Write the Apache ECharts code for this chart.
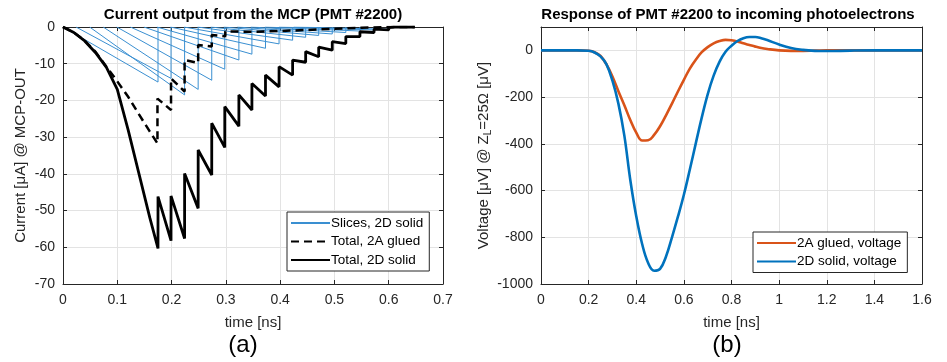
<!DOCTYPE html>
<html>
<head>
<meta charset="utf-8">
<script src="https://cdn.jsdelivr.net/npm/echarts@6/dist/echarts.min.js"></script>
<style>
html,body{margin:0;padding:0;background:#fff;}
#chart{width:947px;height:362px;}
</style>
</head>
<body>
<div id="chart"></div>
<script>
// ---------- Panel (a): current output from the MCP ----------
const sliceStart = [0, 0.024, 0.049, 0.074, 0.099, 0.124, 0.149, 0.173, 0.198, 0.223, 0.248, 0.272, 0.296, 0.321, 0.346, 0.372, 0.398, 0.425];
const sliceEnd   = [0.175, 0.199, 0.224, 0.249, 0.274, 0.298, 0.324, 0.348, 0.373, 0.398, 0.423, 0.447, 0.471, 0.496, 0.521, 0.547, 0.573, 0.6];
const sliceMin   = [-15, -14, -18.5, -17, -14.5, -11.5, -9, -7.4, -5.8, -4.6, -3.6, -2.8, -2.3, -1.9, -1.5, -1.1, -0.8, -0.6];

const solidTime = [0,0.02,0.04,0.06,0.08,0.1,0.12,0.14,0.16,0.175,0.175,0.199,0.199,0.224,0.224,0.249,0.249,0.274,0.274,0.298,0.298,0.324,0.324,0.348,0.348,0.373,0.373,0.398,0.398,0.423,0.423,0.447,0.447,0.471,0.471,0.496,0.496,0.521,0.521,0.547,0.547,0.573,0.573,0.6,0.6,0.61,0.648];
const solidVal  = [0,-1.5,-3.8,-7,-11,-17,-28,-40,-52,-60.3,-46.2,-58.2,-46,-57.6,-39.9,-49.4,-33.5,-40.3,-26.2,-32.8,-21.7,-27,-18.5,-22.6,-15.4,-18.8,-13.1,-16.3,-10.8,-13.1,-9,-9.6,-6.7,-8.1,-5.5,-6.3,-4,-4.5,-2.6,-2.6,-1.3,-1.5,-0.6,-0.8,-0.2,0,0];

const gluedTime = [0,0.02,0.04,0.06,0.08,0.1,0.12,0.14,0.16,0.174,0.174,0.199,0.199,0.224,0.224,0.249,0.249,0.274,0.274,0.299,0.299,0.35,0.4,0.45,0.5,0.55,0.6,0.648];
const gluedVal  = [0,-1.5,-3.7,-6.8,-10.8,-14.8,-19,-23.8,-28.5,-31.7,-19.5,-22.6,-14,-17.6,-9,-9.8,-4.9,-5.3,-2.2,-2.5,-1.2,-1.3,-1.1,-0.8,-0.5,-0.2,0,0];

// ---------- Panel (b): response to incoming photoelectrons ----------
const voltTime  = [0,0.1,0.15,0.2,0.225,0.25,0.275,0.3,0.325,0.35,0.375,0.4,0.425,0.45,0.475,0.5,0.525,0.55,0.575,0.6,0.625,0.65,0.675,0.7,0.725,0.75,0.775,0.8,0.825,0.85,0.875,0.9,0.925,0.95,1.0,1.05,1.1,1.15,1.2,1.3,1.4,1.6];
const voltGlued = [0,0,0,-2,-8,-24,-60,-112,-175,-235,-298,-352,-386,-385,-362,-325,-278,-228,-176,-126,-78,-40,-8,14,30,40,45,43,38,30,23,16,10,6,0,-2,-2,-1,0,0,0,0];
const voltSolid = [0,0,0,-2,-9,-26,-60,-130,-228,-365,-555,-710,-830,-910,-943,-935,-882,-800,-712,-618,-510,-398,-288,-188,-108,-48,-6,20,40,52,57,57,52,44,25,10,2,-2,-3,-1,0,0];

const labelsA = ['Slices, 2D solid', 'Total, 2A glued', 'Total, 2D solid'];
const labelsB = ['2A glued, voltage', '2D solid, voltage'];

const zip = (a, b) => a.map((v, i) => [v, b[i]]);
const FONT = '"Liberation Sans", Arial, Helvetica, sans-serif';
const TXT = '#262626';
const GRIDC = '#e3e3e3';
const fmt = v => String(Math.round(v * 10) / 10);

function xAx(gi, min, max, interval, pos, show) {
  return {
    type: 'value', gridIndex: gi, min: min, max: max, interval: interval, position: pos,
    axisLine: {show: true, onZero: false, lineStyle: {color: TXT, width: 1}},
    axisTick: {show: true, inside: true, length: 4, lineStyle: {color: TXT}},
    axisLabel: {show: show, color: TXT, fontSize: 14, fontFamily: FONT, margin: 9, formatter: fmt},
    splitLine: {show: show, lineStyle: {color: GRIDC, width: 1}},
    name: show ? 'time [ns]' : '', nameLocation: 'middle', nameGap: 31,
    nameTextStyle: {color: TXT, fontSize: 15, fontFamily: FONT}
  };
}
function yAx(gi, min, max, interval, pos, show, name, gap, hideMax) {
  return {
    type: 'value', gridIndex: gi, min: min, max: max, interval: interval, position: pos,
    axisLine: {show: true, onZero: false, lineStyle: {color: TXT, width: 1}},
    axisTick: {show: true, inside: true, length: 4, lineStyle: {color: TXT}},
    axisLabel: {show: show, color: TXT, fontSize: 14, fontFamily: FONT, margin: 8,
      formatter: v => (hideMax && v === max) ? '' : String(v)},
    splitLine: {show: show, lineStyle: {color: GRIDC, width: 1}},
    name: show ? name : '', nameLocation: 'middle', nameGap: gap,
    nameTextStyle: {color: TXT, fontSize: 15, fontFamily: FONT,
      rich: {sub: {fontSize: 10, fontFamily: FONT, color: TXT, padding: [8, 0, 0, 0]}}}
  };
}

const series = [];
sliceStart.forEach((s, i) => {
  series.push({
    name: labelsA[0], type: 'line', xAxisIndex: 0, yAxisIndex: 0,
    data: [[s, 0], [sliceEnd[i], sliceMin[i]], [sliceEnd[i], 0]],
    symbol: 'none', lineStyle: {color: '#3a8fd1', width: 1}, itemStyle: {color: '#3a8fd1'}, z: 2
  });
});
series.push({
  name: labelsA[1], type: 'line', xAxisIndex: 0, yAxisIndex: 0,
  data: zip(gluedTime, gluedVal), symbol: 'none',
  lineStyle: {color: '#000', width: 2.5, type: [8, 5]}, itemStyle: {color: '#000'}, z: 3
});
series.push({
  name: labelsA[2], type: 'line', xAxisIndex: 0, yAxisIndex: 0,
  data: zip(solidTime, solidVal), symbol: 'none',
  lineStyle: {color: '#000', width: 2.8}, itemStyle: {color: '#000'}, z: 4
});
series.push({
  name: labelsB[0], type: 'line', xAxisIndex: 2, yAxisIndex: 2,
  data: zip(voltTime, voltGlued), symbol: 'none', smooth: 0.4,
  lineStyle: {color: '#D95319', width: 2.6}, itemStyle: {color: '#D95319'}, z: 3
});
series.push({
  name: labelsB[1], type: 'line', xAxisIndex: 2, yAxisIndex: 2,
  data: zip(voltTime, voltSolid), symbol: 'none', smooth: 0.4,
  lineStyle: {color: '#0072BD', width: 2.6}, itemStyle: {color: '#0072BD'}, z: 4
});

const legendCommon = {
  orient: 'vertical', backgroundColor: '#fff', borderColor: TXT, borderWidth: 1,
  itemWidth: 39, itemHeight: 14, itemGap: 4.5, selectedMode: false,
  itemStyle: {opacity: 0, borderWidth: 0},
  textStyle: {color: '#000', fontSize: 13.5, fontFamily: FONT, padding: [0, 0, 0, -4]}
};

const option = {
  animation: false,
  backgroundColor: '#fff',
  grid: [
    {left: 63, top: 27, width: 380, height: 257, containLabel: false},
    {left: 541, top: 27, width: 381, height: 257, containLabel: false}
  ],
  xAxis: [
    xAx(0, 0, 0.7, 0.1, 'bottom', true),
    xAx(0, 0, 0.7, 0.1, 'top', false),
    xAx(1, 0, 1.6, 0.2, 'bottom', true),
    xAx(1, 0, 1.6, 0.2, 'top', false)
  ],
  yAxis: [
    yAx(0, -70, 0, 10, 'left', true, 'Current [μA] @ MCP-OUT', 35, false),
    yAx(0, -70, 0, 10, 'right', false, '', 0, false),
    yAx(1, -1000, 100, 200, 'left', true, 'Voltage [μV] @ Z{sub|L}=25Ω [μV]', 42, true),
    yAx(1, -1000, 100, 200, 'right', false, '', 0, true)
  ],
  legend: [
    Object.assign({}, legendCommon, {data: labelsA, left: 287, top: 212, padding: [4, 6, 4, 3]}),
    Object.assign({}, legendCommon, {data: labelsB, left: 753, top: 232, padding: [4, 6, 4, 3]})
  ],
  graphic: [
    {type: 'text', x: 253, y: 15, style: {text: 'Current output from the MCP (PMT #2200)', font: 'bold 15px ' + FONT, fill: '#000', align: 'center', verticalAlign: 'middle'}},
    {type: 'text', x: 728, y: 15, style: {text: 'Response of PMT #2200 to incoming photoelectrons', font: 'bold 15px ' + FONT, fill: '#000', align: 'center', verticalAlign: 'middle'}},
    {type: 'text', x: 243, y: 345, style: {text: '(a)', font: '24px ' + FONT, fill: '#000', align: 'center', verticalAlign: 'middle'}},
    {type: 'text', x: 727, y: 345, style: {text: '(b)', font: '24px ' + FONT, fill: '#000', align: 'center', verticalAlign: 'middle'}}
  ],
  series: series
};

const chart = echarts.init(document.getElementById('chart'), null, {renderer: 'canvas'});
chart.setOption(option);
</script>
</body>
</html>
